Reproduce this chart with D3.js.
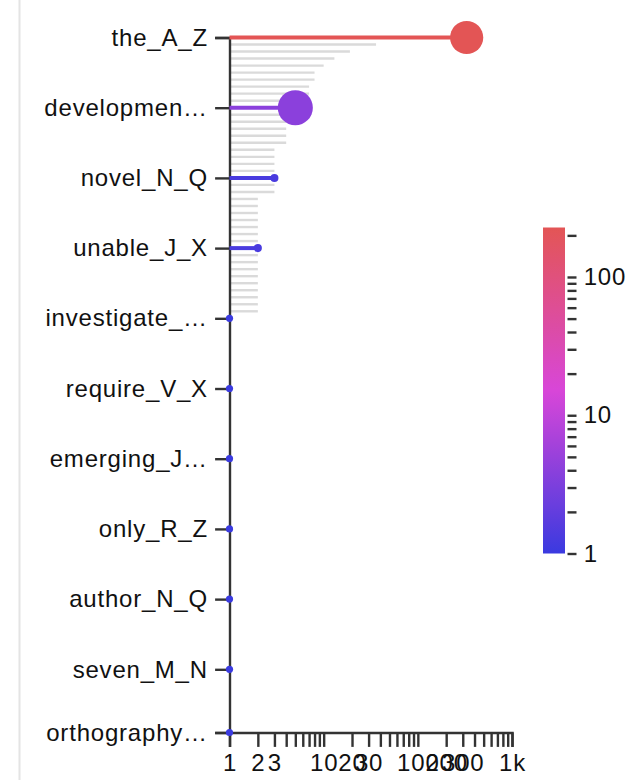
<!DOCTYPE html>
<html><head><meta charset="utf-8">
<script src="https://cdn.jsdelivr.net/npm/d3@7"></script>
<style>
body{margin:0;background:#fff;overflow:hidden}
text{font-family:"Liberation Sans",Arial,sans-serif}
</style>
</head><body>
<svg id="c" width="641" height="780"></svg>
<script>
// ---- data ----
const labels = ["the_A_Z","developmen…","novel_N_Q","unable_J_X","investigate_…","require_V_X","emerging_J…","only_R_Z","author_N_Q","seven_M_N","orthography…"];
const labelIndex = [0,10,20,30,40,50,60,70,80,90,99];
const labelColorValues = [228,4,1.3,1.3,1,1,1,1,1,1,1];
const labelSizes = [85,95,5,5,4,4,4,4,4,4,4];
const allValues = [
  330,36,19,13,10,8,8,7,7,6,
  5,4,4,4,4,4,3,3,3,3,
  3,3,3,2,2,2,2,2,2,2,
  2,2,2,2,2,2,2,2,2,2,
  1,1,1,1,1,1,1,1,1,1,
  1,1,1,1,1,1,1,1,1,1,
  1,1,1,1,1,1,1,1,1,1,
  1,1,1,1,1,1,1,1,1,1,
  1,1,1,1,1,1,1,1,1,1,
  1,1,1,1,1,1,1,1,1,1
];
const colorDomain = [1, 15, 228];
const colorRange = ["#3a3ae0", "#d846d8", "#e35555"];
const legendLabels = [1, 10, 100];

(function(){
// ---- layout ----
const svg = d3.select("#c");
const S = 2.4; // stroke / tick scale
const mLeft = 229.5, mRight = 512, mTop = 37.5, mBottom = 732.5;

svg.append("line").attr("x1",19.5).attr("x2",19.5).attr("y1",0).attr("y2",780)
  .attr("stroke","#e4e4e4").attr("stroke-width",2);

const x = d3.scaleLog().domain([1, 1000]).range([mLeft, mRight]);
const y = d3.scalePoint().domain(d3.range(allValues.length)).range([mTop, mBottom]);
const color = d3.scaleLog().domain(colorDomain).range(colorRange).clamp(true);
const r = d3.scaleSqrt().domain([0, 100]).range([0, 18]);

// gray lines for every item
svg.append("g").selectAll("line").data(allValues).join("line")
  .attr("x1", x(1)).attr("x2", d => x(d))
  .attr("y1", (d,i) => y(i)).attr("y2", (d,i) => y(i))
  .attr("stroke", "#dadada").attr("stroke-width", S);

// axes
const fontSize = 24;
function styleAxis(g){
  g.attr("font-family", null);
  g.selectAll("path,line").attr("stroke","#333").attr("stroke-width",S);
  g.selectAll("text").attr("font-size",fontSize).attr("fill","#111")
    .style("letter-spacing","0.8px");
}
const yAxis = d3.axisLeft(y).tickValues(labelIndex)
  .tickFormat((d) => labels[labelIndex.indexOf(d)])
  .tickSize(6*S).tickPadding(3*S);
svg.append("g").attr("transform",`translate(${mLeft},0)`).call(yAxis).call(styleAxis);

const xAxis = d3.axisBottom(x).tickSize(6*S).tickPadding(3*S);
svg.append("g").attr("transform",`translate(0,${mBottom})`).call(xAxis).call(styleAxis);

// lollipops for labeled items
const items = labelIndex.map((idx,i) => ({idx, v: allValues[idx], c: labelColorValues[i], s: labelSizes[i]}));
svg.append("g").selectAll("line").data(items).join("line")
  .attr("x1", x(1)).attr("x2", d => x(d.v))
  .attr("y1", d => y(d.idx)).attr("y2", d => y(d.idx))
  .attr("stroke", d => color(d.c)).attr("stroke-width", 4);
svg.append("g").selectAll("circle").data(items).join("circle")
  .attr("cx", d => x(d.v)).attr("cy", d => y(d.idx)).attr("r", d => r(d.s))
  .attr("fill", d => color(d.c));

// color legend
const lgX = 543, lgW = 22, lgTop = 227.5, lgBottom = 553.5;
const lg = d3.scaleLog().domain([colorDomain[0], colorDomain[2]]).range([lgBottom, lgTop]);
const defs = svg.append("defs");
const grad = defs.append("linearGradient").attr("id","lgGrad")
  .attr("x1","0").attr("x2","0").attr("y1","1").attr("y2","0");
d3.range(0, 1.0001, 0.05).forEach(t => {
  const v = lg.invert(lgBottom - t*(lgBottom-lgTop));
  grad.append("stop").attr("offset", t).attr("stop-color", color(v));
});
svg.append("rect").attr("x",lgX).attr("y",lgTop).attr("width",lgW).attr("height",lgBottom-lgTop)
  .attr("fill","url(#lgGrad)");
const lgAxis = d3.axisRight(lg).tickSize(9).tickPadding(3*S)
  .tickFormat(d => legendLabels.includes(d) ? d3.format("d")(d) : "");
const lgG = svg.append("g").attr("transform",`translate(${lgX+lgW+2.5},0)`).call(lgAxis).call(styleAxis);
lgG.select(".domain").remove();
})();
</script>
</body></html>
